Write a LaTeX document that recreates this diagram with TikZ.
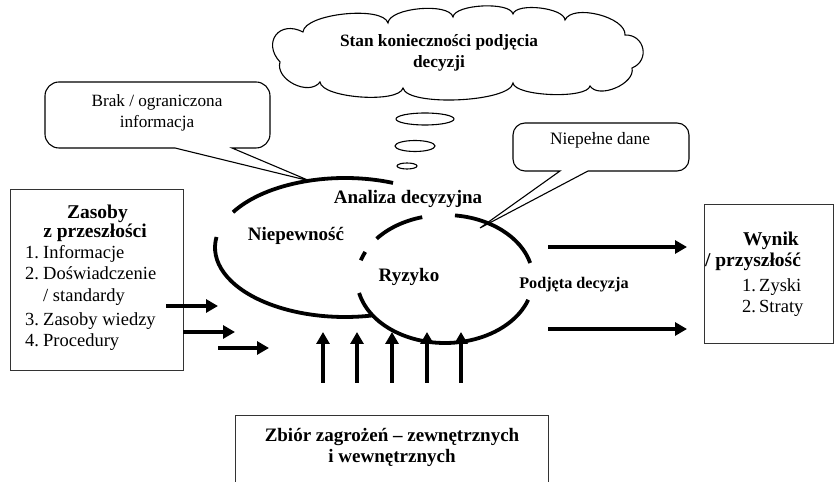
\documentclass[tikz,border=0pt]{standalone}
\usepackage{fontspec}
\setmainfont{Liberation Serif}
\usetikzlibrary{arrows.meta}

\begin{document}
\begin{tikzpicture}[x=1pt,y=1pt,
  frame/.style={line width=1pt, draw=black!80},
  thinline/.style={line width=1.1pt},
  ring/.style={line width=3.8pt},
  fat/.style={line width=4pt, -{Triangle[length=12pt,width=13pt]}},
  hd/.style={font=\fontsize{19.5}{21}\selectfont\bfseries, inner sep=0pt},
  lbl/.style={font=\fontsize{19}{21}\selectfont\bfseries, inner sep=0pt},
  rg/.style={font=\fontsize{18.5}{21}\selectfont, inner sep=0pt},
  puff/.style={bend right=80, looseness=#1},
]
\useasboundingbox (0,0) rectangle (836,482);

% ---- thought cloud and its trail of bubbles
\draw[thinline, fill=white]
  (303,450) to[puff=1.8]  (280,420)
            to[puff=1.05] (320,400)
            to[puff=0.5]  (403,394)
            to[puff=0.45] (513,399)
            to[puff=0.45] (590,396)
            to[puff=0.9]  (632,414)
            to[puff=1.5]  (625,447)
            to[puff=0.75] (565,462)
            to[puff=0.6]  (513,468)
            to[puff=0.55] (453,465)
            to[puff=0.6]  (388,459)
            to[puff=0.55] (303,450) -- cycle;
\node[font=\fontsize{17.3}{21}\selectfont\bfseries, align=center, inner sep=0pt]
      (cloudtxt) at (439,429.5) {Stan konieczności podjęcia\\decyzji};
\draw[thinline] (425,363) ellipse[x radius=29, y radius=6];
\draw[thinline] (415,336) ellipse[x radius=20, y radius=5.5];
\draw[thinline] (407,316) ellipse[x radius=10, y radius=3];

% ---- callout: missing information
\coordinate (tipA) at (310,301);
\draw[thinline, fill=white] (232,334) -- (tipA) -- (175,334) -- (59,334)
   arc[start angle=270, end angle=180, radius=14] -- (45,386)
   arc[start angle=180, end angle=90, radius=14] -- (256,400)
   arc[start angle=90, end angle=0, radius=14] -- (270,348)
   arc[start angle=0, end angle=-90, radius=14] -- cycle;
\node[font=\fontsize{17.2}{21}\selectfont, align=center, inner sep=0pt]
      (brak) at (157,369.5) {Brak / ograniczona\\informacja};

% ---- callout: incomplete data
\coordinate (tipB) at (480,254);
\draw[thinline, fill=white] (588,311) -- (tipB) -- (560,311) -- (525,311)
   arc[start angle=270, end angle=180, radius=12] -- (513,347)
   arc[start angle=180, end angle=90, radius=12] -- (677,359)
   arc[start angle=90, end angle=0, radius=12] -- (689,323)
   arc[start angle=0, end angle=-90, radius=12] -- cycle;
\node[font=\fontsize{17.4}{21}\selectfont, inner sep=0pt] (dane) at (600,342) {Niepełne dane};

% ---- uncertainty ellipse
\coordinate (E1) at (345,234.5);
\draw[ring] (E1) ++(68.3:130 and 69.5)
   arc[start angle=68.3, end angle=149.5, x radius=130, y radius=69.5];
\draw[ring] (E1) ++(171.3:130 and 69.5)
   arc[start angle=171.3, end angle=282.4, x radius=130, y radius=69.5];

% ---- risk ellipse
\coordinate (E2) at (445,203);
\draw[ring] (E2) ++(14.5:88 and 64)
   arc[start angle=14.5, end angle=83.5, x radius=88, y radius=64];
\draw[ring] (E2) ++(105:88 and 64)
   arc[start angle=105, end angle=141, x radius=88, y radius=64];
\draw[ring] (E2) ++(155:88 and 64)
   arc[start angle=155, end angle=163, x radius=88, y radius=64];
\draw[ring] (E2) ++(192.6:88 and 64)
   arc[start angle=192.6, end angle=341, x radius=88, y radius=64];

\node[lbl] (analiza) at (408,283) {Analiza decyzyjna};
\node[lbl] (niepew) at (296,246) {Niepewność};
\node[lbl] (ryzyko) at (409,205) {Ryzyko};
\node[font=\fontsize{16.2}{20}\selectfont\bfseries, inner sep=0pt] (podjeta) at (574,197) {Podjęta decyzja};

% ---- past resources box
\draw[frame] (10,111) rectangle (183,292);
\node[hd, anchor=base] (zas1) at (97.5,263) {Zasoby};
\node[hd, anchor=base] (zas2) at (95,244) {z przeszłości};
\foreach \n/\t/\yy in {1./Informacje/223, 2./Doświadczenie/202, /{/ standardy}/180,
                        3./Zasoby wiedzy/156, 4./Procedury/135}{
  \node[rg, anchor=base west] at (25,\yy) {\n};
  \node[rg, anchor=base west] at (43,\yy) {\t};
}

% ---- outcome box
\draw[frame] (704,138) rectangle (833,277);
\node[hd, anchor=base] (wyn1) at (771,236) {Wynik};
\node[hd, anchor=base] (wyn2) at (753,215) {/ przyszłość};
\node[rg, anchor=base west] at (742,190) {1.};
\node[rg, anchor=base west] at (759,190) {Zyski};
\node[rg, anchor=base west] at (742,169) {2.};
\node[rg, anchor=base west] at (759,169) {Straty};

% ---- threats box (runs off the lower edge)
\draw[frame] (235,-5) -- (235,66) -- (548,66) -- (548,-5);
\node[font=\fontsize{19}{21}\selectfont\bfseries, align=center, inner sep=0pt]
      (zbior) at (392,35) {Zbiór zagrożeń – zewnętrznych\\i wewnętrznych};

% ---- inputs from the left
\coordinate (la1) at (166,176); \coordinate (lb1) at (218,176);
\coordinate (la2) at (183,150); \coordinate (lb2) at (235,150);
\coordinate (la3) at (218,134); \coordinate (lb3) at (269,134);
\draw[fat] (la1) -- (lb1);
\draw[fat] (la2) -- (lb2);
\draw[fat] (la3) -- (lb3);

% ---- outputs to the right
\coordinate (ra1) at (548,235); \coordinate (rb1) at (687,235);
\coordinate (ra2) at (548,153); \coordinate (rb2) at (687,153);
\draw[fat] (ra1) -- (rb1);
\draw[fat] (ra2) -- (rb2);

% ---- threats pushing upwards
\foreach \xx [count=\i] in {323,357,392,427,461}{
  \coordinate (ua\i) at (\xx,99);
  \coordinate (ub\i) at (\xx,150);
  \draw[fat] (ua\i) -- (ub\i);
}
\end{tikzpicture}
\end{document}
